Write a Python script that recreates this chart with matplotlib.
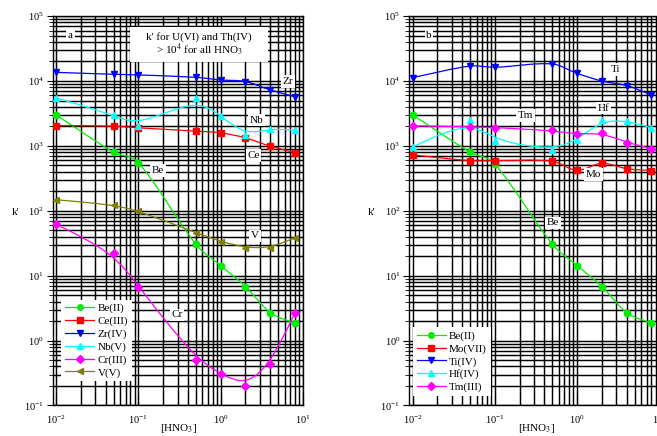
"""Distribution ratio k' vs [HNO3], two panels (a, b), log-log with a dense grid."""

import matplotlib

matplotlib.use("Agg")
import matplotlib.pyplot as plt
import numpy as np
from matplotlib.lines import Line2D
from matplotlib.patches import PathPatch, Rectangle
from matplotlib.path import Path
from matplotlib.ticker import LogLocator, NullFormatter

plt.rcParams["font.family"] = ["Liberation Serif", "DejaVu Serif"]
plt.rcParams["mathtext.fontset"] = "stix"

# HNO3 concentrations (M), same for every series
HNO3 = [0.01, 0.05, 0.1, 0.5, 1, 2, 4, 8]

# panel a
BE_A = [3000, 800, 550, 30.5, 14.3, 6.8, 2.7, 1.85]
CE_A = [2060, 2015, 1900, 1690, 1590, 1330, 990, 790]
ZR_A = [13600, 12700, 12400, 11400, 10400, 9800, 7300, 5700]
NB_A = [5500, 3000, 2000, 5500, 2900, 1460, 1850, 1750]
CR_A = [62, 22.7, 6.8, 0.51, 0.31, 0.20, 0.43, 2.7]
V_A = [148, 124, 100, 46, 33.6, 27, 26.5, 38.7]

# panel b
BE_B = [3000, 800, 521, 30.5, 14.3, 6.8, 2.7, 1.85]
MO_B = [726, 593, 593, 580, 420, 540, 446, 417]
TI_B = [11300, 17000, 16300, 18300, 13100, 10000, 8500, 6100]
HF_B = [965, 2500, 1180, 858, 1225, 2500, 2440, 1900]
TM_B = [2040, 1970, 1920, 1730, 1500, 1600, 1125, 910]

GREEN = "#00ee00"
RED = "#ff0000"
BLUE = "#0000ff"
CYAN = "#00ffff"
MAGENTA = "#ff00ff"
OLIVE = "#808000"


def smooth_path(xs, ys, kind):
    """Bezier path in log-log space. 'interp' passes through every point,
    'bspline' is an Origin-style B-spline using the points as controls."""
    p = np.column_stack([np.log10(xs), np.log10(ys)])
    verts = []
    if kind == "interp":
        n = len(p)
        m = np.zeros(n)
        for i in range(n):
            a, b = max(i - 1, 0), min(i + 1, n - 1)
            m[i] = (p[b, 1] - p[a, 1]) / (p[b, 0] - p[a, 0])
        verts.append(p[0])
        for i in range(n - 1):
            h = p[i + 1, 0] - p[i, 0]
            verts.append([p[i, 0] + h / 3, p[i, 1] + m[i] * h / 3])
            verts.append([p[i + 1, 0] - h / 3, p[i + 1, 1] - m[i + 1] * h / 3])
            verts.append(p[i + 1])
    else:
        q = np.vstack([p[0], p[0], p, p[-1], p[-1]])
        for i in range(len(q) - 3):
            q0, q1, q2, q3 = q[i], q[i + 1], q[i + 2], q[i + 3]
            if i == 0:
                verts.append((q0 + 4 * q1 + q2) / 6)
            verts.append((2 * q1 + q2) / 3)
            verts.append((q1 + 2 * q2) / 3)
            verts.append((q1 + 4 * q2 + q3) / 6)
    verts = 10 ** np.array(verts)
    codes = [Path.MOVETO] + [Path.CURVE4] * (len(verts) - 1)
    return Path(verts, codes)


def draw_series(ax, ys, color, marker, kind, ms=4.6):
    patch = PathPatch(smooth_path(HNO3, ys, kind), fill=False, edgecolor=color,
                      lw=0.9, transform=ax.transData, zorder=2)
    ax.add_patch(patch)
    ax.plot(HNO3, ys, ls="none", marker=marker, ms=ms, color=color,
            mec=color, zorder=3)
    return Line2D([], [], color=color, marker=marker, ms=ms - 0.6, lw=0.9)


def label(ax, x, y, s):
    ax.text(x, y, s, fontsize=8, ha="center", va="center", zorder=4,
            bbox={"boxstyle": "square,pad=0.15", "facecolor": "white",
                  "edgecolor": "none"})


def style_axes(ax):
    ax.set_xscale("log")
    ax.set_yscale("log")
    ax.set_xlim(0.0091, 10)
    ax.set_ylim(0.1, 1e5)
    for axis in (ax.xaxis, ax.yaxis):
        axis.set_major_locator(LogLocator(base=10, numticks=12))
        axis.set_minor_locator(LogLocator(base=10, subs=np.arange(2, 10), numticks=12))
        axis.set_minor_formatter(NullFormatter())
    ax.grid(which="both", color="black", lw=1.05)
    ax.tick_params(axis="x", which="both", direction="in", labelsize=7.5, pad=6)
    ax.tick_params(axis="x", which="major", length=8)
    ax.tick_params(axis="x", which="minor", length=6)
    ax.tick_params(axis="y", which="both", direction="out", labelsize=7.5, pad=2)
    ax.tick_params(axis="y", which="major", length=4.5)
    ax.tick_params(axis="y", which="minor", length=3)
    for sp in ax.spines.values():
        sp.set_color("black")
        sp.set_linewidth(1.0)


fig = plt.figure(figsize=(6.57, 4.36), dpi=100)
ax_a = fig.add_axes([0.0802, 0.070, 0.381, 0.893])
ax_b = fig.add_axes([0.623, 0.070, 0.3807, 0.893])
style_axes(ax_a)
style_axes(ax_b)

# panel a
handles_a = [
    draw_series(ax_a, BE_A, GREEN, "o", "interp"),
    draw_series(ax_a, CE_A, RED, "s", "interp"),
    draw_series(ax_a, ZR_A, BLUE, "v", "interp"),
    draw_series(ax_a, NB_A, CYAN, "^", "bspline"),
    draw_series(ax_a, CR_A, MAGENTA, "D", "bspline", ms=4.2),
    draw_series(ax_a, V_A, OLIVE, "<", "bspline"),
]
ax_a.legend(handles_a, ["Be(II)", "Ce(III)", "Zr(IV)", "Nb(V)", "Cr(III)", "V(V)"],
            loc="upper left", bbox_to_anchor=(0.035, 0.272), borderaxespad=0,
            fontsize=8, handlelength=2.6, handletextpad=0.3, labelspacing=0.25,
            borderpad=0.35, fancybox=False, framealpha=1, edgecolor="none")

ax_a.add_patch(Rectangle((0.309, 0.882), 0.551, 0.090, transform=ax_a.transAxes,
                         facecolor="white", edgecolor="none", zorder=4))
ax_a.text(0.585, 0.947, "k' for U(VI) and Th(IV)", transform=ax_a.transAxes,
          fontsize=8, ha="center", va="center", zorder=5)
ax_a.text(0.585, 0.914, r"> 10$^4$ for all HNO$_3$", transform=ax_a.transAxes,
          fontsize=8, ha="center", va="center", zorder=5)

label(ax_a, 0.015, 5.1e4, "a")
label(ax_a, 6.6, 9.8e3, "Zr")
label(ax_a, 2.7, 2.5e3, "Nb")
label(ax_a, 2.5, 710, "Ce")
label(ax_a, 0.174, 417, "Be")
label(ax_a, 2.6, 41, "V")
label(ax_a, 0.295, 2.5, "Cr")

# panel b
handles_b = [
    draw_series(ax_b, BE_B, GREEN, "o", "interp"),
    draw_series(ax_b, MO_B, RED, "s", "interp"),
    draw_series(ax_b, TI_B, BLUE, "v", "interp"),
    draw_series(ax_b, HF_B, CYAN, "^", "bspline"),
    draw_series(ax_b, TM_B, MAGENTA, "D", "bspline", ms=4.2),
]
ax_b.legend(handles_b, ["Be(II)", "Mo(VII)", "Ti(IV)", "Hf(IV)", "Tm(III)"],
            loc="upper left", bbox_to_anchor=(0.015, 0.2015), borderaxespad=0,
            fontsize=8, handlelength=2.6, handletextpad=0.3, labelspacing=0.25,
            borderpad=0.35, fancybox=False, framealpha=1, edgecolor="none")

label(ax_b, 0.0158, 5.1e4, "b")
label(ax_b, 2.9, 1.5e4, "Ti")
label(ax_b, 2.07, 3.8e3, "Hf")
label(ax_b, 0.235, 2.95e3, "Tm")
label(ax_b, 1.57, 363, "Mo")
label(ax_b, 0.51, 65, "Be")

# axis titles
fig.text(16 / 657, 1 - 212 / 436, "k'", fontsize=8, ha="center", va="center")
fig.text(372 / 657, 1 - 212 / 436, "k'", fontsize=8, ha="center", va="center")
fig.text(179 / 657, 1 / 436, r"[HNO$_3$]", fontsize=8, ha="center", va="bottom")
fig.text(537 / 657, 1 / 436, r"[HNO$_3$]", fontsize=8, ha="center", va="bottom")

fig.savefig("out.png", dpi=100)
